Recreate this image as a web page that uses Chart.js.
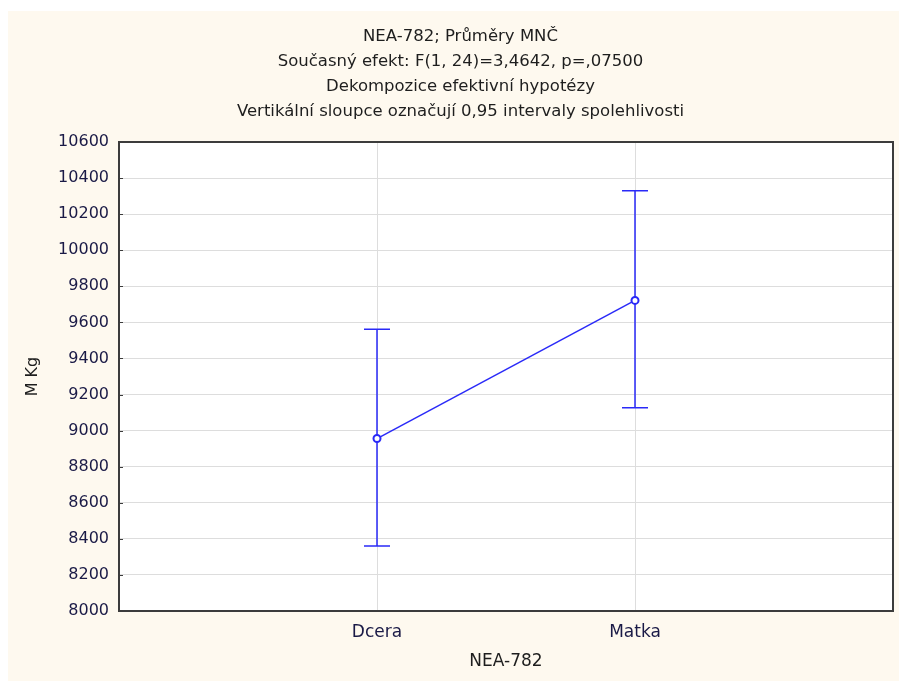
<!DOCTYPE html>
<html>
<head>
<meta charset="utf-8">
<script src="https://cdn.jsdelivr.net/npm/chart.js@4.4.1/dist/chart.umd.min.js"></script>
<style>
  html, body { margin: 0; padding: 0; background: #ffffff; }
  #wrap { position: absolute; left: 8px; top: 11px; width: 891px; height: 670px; background: #fef9ef; }
</style>
</head>
<body>
<div id="wrap"><canvas id="chart" width="891" height="670"></canvas></div>
<script>
const categories = ['Dcera', 'Matka'];
const means = [8956, 9722];
const lowerCI = [8360, 9127];
const upperCI = [9562, 10330];
const titleLines = [
  'NEA-782; Průměry MNČ',
  'Současný efekt: F(1, 24)=3,4642, p=,07500',
  'Dekompozice efektivní hypotézy',
  'Vertikální sloupce označují 0,95 intervaly spolehlivosti'
];

const FONT = "'DejaVu Sans', sans-serif";
const BLUE = '#2a2af8';

// white plot area with dark frame and little inner ticks on the y axis
const plotFrame = {
  id: 'plotFrame',
  beforeDraw(chart) {
    const { ctx, chartArea: a } = chart;
    ctx.save();
    ctx.fillStyle = '#ffffff';
    ctx.fillRect(a.left, a.top, a.right - a.left, a.bottom - a.top);
    ctx.restore();
  },
  afterDraw(chart) {
    const { ctx, chartArea: a, scales } = chart;
    ctx.save();
    ctx.strokeStyle = '#3c3c3c';
    ctx.lineWidth = 2;
    ctx.strokeRect(a.left, a.top, a.right - a.left, a.bottom - a.top);
    ctx.lineWidth = 1;
    ctx.beginPath();
    scales.y.ticks.forEach(t => {
      const y = Math.round(scales.y.getPixelForValue(t.value)) + 0.5;
      ctx.moveTo(a.left, y);
      ctx.lineTo(a.left + 4, y);
    });
    ctx.stroke();
    ctx.restore();
  }
};

// confidence interval whiskers
const errorBars = {
  id: 'errorBars',
  beforeDatasetsDraw(chart) {
    const { ctx, scales } = chart;
    ctx.save();
    ctx.strokeStyle = BLUE;
    ctx.lineWidth = 1.5;
    categories.forEach((c, i) => {
      const x = scales.x.getPixelForValue(i + 1);
      const yLo = scales.y.getPixelForValue(lowerCI[i]);
      const yHi = scales.y.getPixelForValue(upperCI[i]);
      ctx.beginPath();
      ctx.moveTo(x, yLo);
      ctx.lineTo(x, yHi);
      ctx.moveTo(x - 13, yHi);
      ctx.lineTo(x + 13, yHi);
      ctx.moveTo(x - 13, yLo);
      ctx.lineTo(x + 13, yLo);
      ctx.stroke();
    });
    ctx.restore();
  }
};

new Chart(document.getElementById('chart'), {
  type: 'line',
  data: {
    datasets: [{
      data: means.map((m, i) => ({ x: i + 1, y: m })),
      borderColor: BLUE,
      borderWidth: 1.5,
      pointRadius: 3.5,
      pointBorderWidth: 2,
      pointBackgroundColor: '#ffffff',
      pointBorderColor: BLUE,
      tension: 0
    }]
  },
  options: {
    responsive: false,
    animation: false,
    layout: { padding: { left: 20, right: 6, top: 0, bottom: 0 } },
    plugins: {
      legend: { display: false },
      tooltip: { enabled: false },
      title: {
        display: true,
        text: titleLines,
        color: '#1e1e1e',
        font: { family: FONT, size: 16.5, weight: 'normal', lineHeight: 1.5 },
        padding: { top: 13.6, bottom: 18.4 }
      }
    },
    scales: {
      x: {
        type: 'linear',
        min: 0,
        max: 3,
        afterBuildTicks(scale) {
          scale.ticks = [0, 1, 2, 3].map(v => ({ value: v }));
        },
        afterFit(scale) { scale.height = 70; },
        grid: {
          drawTicks: true,
          tickLength: 11,
          tickColor: 'rgba(0,0,0,0)',
          color: ctx => (ctx.tick && (ctx.tick.value === 1 || ctx.tick.value === 2)) ? '#dddddd' : 'rgba(0,0,0,0)'
        },
        border: { display: false },
        ticks: {
          padding: 0,
          color: '#1a1a46',
          font: { family: FONT, size: 17 },
          callback: v => categories[v - 1] || ''
        },
        title: {
          display: true,
          text: 'NEA-782',
          color: '#1e1e1e',
          font: { family: FONT, size: 17 },
          padding: { top: 0, bottom: 9 }
        }
      },
      y: {
        min: 8000,
        max: 10600,
        afterFit(scale) { scale.width = 91; },
        grid: { drawTicks: false, color: '#dddddd' },
        border: { display: false },
        ticks: {
          stepSize: 200,
          padding: 10,
          color: '#1a1a46',
          font: { family: FONT, size: 16 },
          callback: v => String(v)
        },
        title: {
          display: true,
          text: 'M Kg',
          color: '#1e1e1e',
          font: { family: FONT, size: 16 },
          padding: { top: -5, bottom: 0 }
        }
      }
    }
  },
  plugins: [plotFrame, errorBars]
});
</script>
</body>
</html>
